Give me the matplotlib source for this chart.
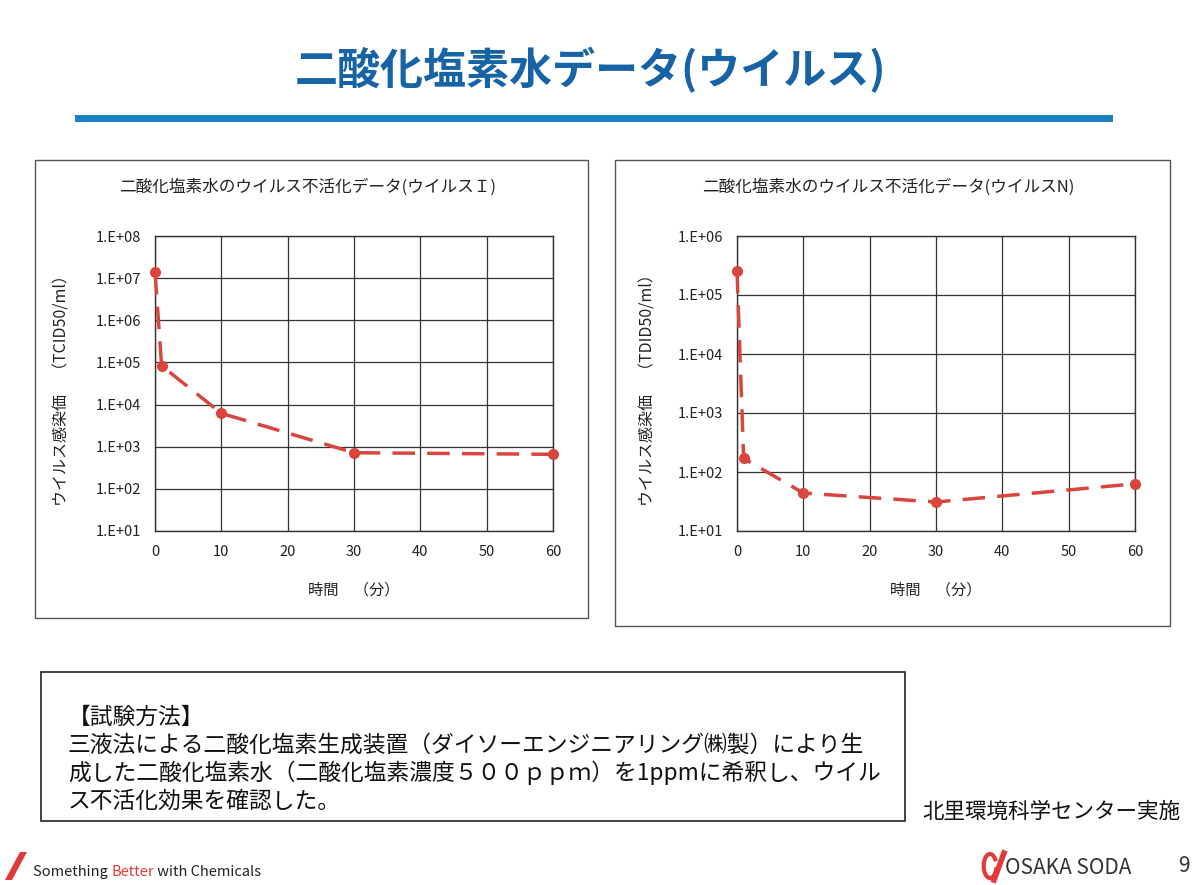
import matplotlib
matplotlib.use("Agg")
import matplotlib.pyplot as plt
from matplotlib.patches import Rectangle, Polygon
import numpy as np

plt.rcParams['font.family'] = ['Noto Sans CJK JP', 'DejaVu Sans']

# ---- data ----
time_min = [0, 1, 10, 30, 60]
virus_I = [1.4e7, 8.3e4, 6.2e3, 7.2e2, 6.6e2]
virus_N = [2.6e5, 1.7e2, 4.4e1, 3.1e1, 6.3e1]
xticks = [0, 10, 20, 30, 40, 50, 60]
yticks_I = [1e1, 1e2, 1e3, 1e4, 1e5, 1e6, 1e7, 1e8]
yticklabels_I = ['1.E+01', '1.E+02', '1.E+03', '1.E+04', '1.E+05', '1.E+06', '1.E+07', '1.E+08']
yticks_N = [1e1, 1e2, 1e3, 1e4, 1e5, 1e6]
yticklabels_N = ['1.E+01', '1.E+02', '1.E+03', '1.E+04', '1.E+05', '1.E+06']

page_title = '二酸化塩素水データ(ウイルス)'
title_I = '二酸化塩素水のウイルス不活化データ(ウイルスＩ)'
title_N = '二酸化塩素水のウイルス不活化データ(ウイルスN)'
ylabel_I = 'ウイルス感染価　（TCID50/ml）'
ylabel_N = 'ウイルス感染価　（TDID50/ml）'
xlabel = '時間　（分）'
method_lines = ['【試験方法】',
                '三液法による二酸化塩素生成装置（ダイソーエンジニアリング㈱製）により生',
                '成した二酸化塩素水（二酸化塩素濃度５００ｐｐｍ）を1ppmに希釈し、ウイル',
                'ス不活化効果を確認した。']
credit = '北里環境科学センター実施'
footer_parts = [('Something ', '#222222'), ('Better', '#e03a3a'), (' with Chemicals', '#222222')]

W, H = 1200, 885
fig = plt.figure(figsize=(12, 8.85), dpi=100)
fig.patch.set_facecolor('white')

def fx(x):
    return x / W

def fy(y):
    return 1 - y / H

def fig_rect(x0, y0, x1, y1, **kw):
    r = Rectangle((fx(x0), fy(y1)), fx(x1) - fx(x0), (y1 - y0) / H,
                  transform=fig.transFigure, **kw)
    fig.add_artist(r)

# page title and bar
fig.text(fx(590), fy(70), page_title, ha='center', va='center', fontsize=31,
         color='#1663a6', fontweight='bold')
fig_rect(75, 115, 1113, 122, facecolor='#1a82c4', edgecolor='none')

# chart panels
fig_rect(35, 160, 588, 618, facecolor='none', edgecolor='#555555', linewidth=1.0)
fig_rect(615, 160, 1170, 626, facecolor='none', edgecolor='#555555', linewidth=1.0)

RED = '#d9463e'

def make_chart(ax_box, yvals, yticks, yticklabels, ylabel, title, title_x, ylabel_x):
    x0, y0, x1, y1 = ax_box
    ax = fig.add_axes([fx(x0), fy(y1), fx(x1) - fx(x0), (y1 - y0) / H])
    ax.set_yscale('log')
    ax.set_xlim(0, 60)
    ax.set_ylim(yticks[0], yticks[-1])
    ax.plot(time_min, yvals, color=RED, linewidth=2.5, linestyle=(0, (6.5, 3.5)),
            marker='o', markersize=7, markerfacecolor=RED, markeredgecolor=RED,
            clip_on=False, zorder=5)
    ax.set_xticks(xticks)
    ax.set_xticklabels([str(v) for v in xticks], fontsize=10.5, color='#222222')
    ax.set_yticks(yticks)
    ax.set_yticklabels(yticklabels, fontsize=10.5, color='#222222')
    ax.yaxis.set_minor_locator(matplotlib.ticker.NullLocator())
    ax.tick_params(length=0, pad=10)
    ax.grid(True, color='#333333', linewidth=0.9)
    ax.set_axisbelow(True)
    for s in ax.spines.values():
        s.set_color('#333333')
        s.set_linewidth(1.0)
    fig.text(fx(title_x), fy(187), title, ha='center', va='center', fontsize=12,
             color='#222222')
    fig.text(fx(ylabel_x), fy((y0 + y1) / 2 + 3), ylabel, ha='center', va='center',
             rotation=90, fontsize=11.5, color='#222222')
    fig.text(fx((x0 + x1) / 2), fy(590), xlabel, ha='center', va='center',
             fontsize=11, color='#222222')
    return ax

make_chart((155, 236, 553, 531), virus_I, yticks_I, yticklabels_I, ylabel_I,
           title_I, 308, 62)
make_chart((737, 236, 1135, 531), virus_N, yticks_N, yticklabels_N, ylabel_N,
           title_N, 888, 648)

# method box
fig_rect(41, 672, 905, 821, facecolor='none', edgecolor='#222222', linewidth=1.2)
for i, line in enumerate(method_lines):
    fig.text(fx(68), fy(717 + i * 28), line, ha='left', va='center', fontsize=16.4,
             color='#111111')
fig.text(fx(1180), fy(812), credit, ha='right', va='center', fontsize=15.5,
         color='#111111')

# footer
slash = Polygon([[fx(5), fy(880)], [fx(12), fy(880)], [fx(27), fy(852)], [fx(20), fy(852)]],
                closed=True, transform=fig.transFigure, facecolor='#e03a3a', edgecolor='none')
fig.add_artist(slash)
renderer = fig.canvas.get_renderer()
cur_x = 33
for txt, col in footer_parts:
    t_obj = fig.text(fx(cur_x), fy(872), txt, ha='left', va='center', fontsize=10.5, color=col)
    bb = t_obj.get_window_extent(renderer=renderer)
    cur_x += bb.width

t = np.linspace(0.3, 2 * np.pi - 0.6, 60)
lx = 990 + 9 * np.cos(t) * 0.7
ly = 866 + 12 * np.sin(t)
fig.add_artist(plt.Line2D(fx(lx), fy(ly), transform=fig.transFigure, color='#e03a3a', linewidth=3))
fig.add_artist(plt.Line2D([fx(994), fx(1004)], [fy(880), fy(853)], transform=fig.transFigure,
                          color='#e03a3a', linewidth=4))
fig.text(fx(1005), fy(868), 'OSAKA SODA', ha='left', va='center', fontsize=15, color='#333333')
fig.text(fx(1190), fy(866), '9', ha='right', va='center', fontsize=15, color='#333333')

fig.savefig('out.png', dpi=100)
